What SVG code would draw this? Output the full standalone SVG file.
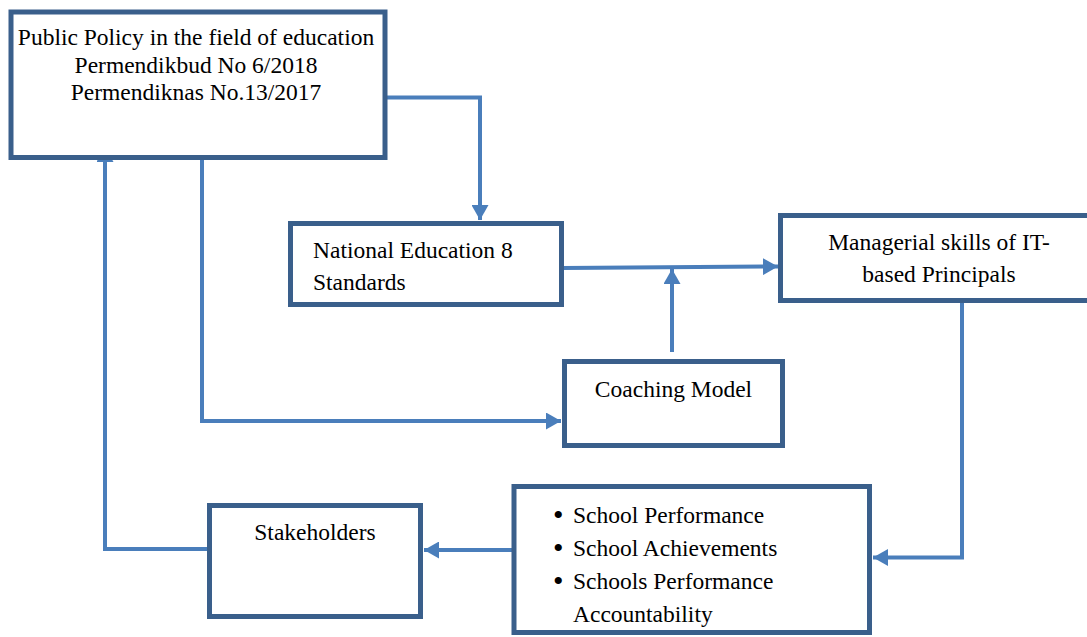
<svg xmlns="http://www.w3.org/2000/svg" width="1087" height="637" viewBox="0 0 1087 637">
  <style>
    .box { fill: #ffffff; stroke: #3A5F8B; stroke-width: 5; }
    .link { fill: none; stroke: #4A7EBB; stroke-width: 4; }
    text { font-family: 'Liberation Serif', 'Times New Roman', Tinos, serif; font-size: 23.5px; fill: #000000; }
    .mid { text-anchor: middle; }
    .dot { font-size: 30px; }
  </style>
  <defs>
    <marker id="arrow" markerUnits="userSpaceOnUse" markerWidth="15" markerHeight="17" viewBox="0 0 15 17" refX="15" refY="8.5" orient="auto">
      <path d="M0,0 L15,8.5 L0,17 z" fill="#4A7EBB"/>
    </marker>
  </defs>

  <rect width="1087" height="637" fill="#ffffff"/>

  <g id="connectors">
    <path class="link" d="M386,97.5 H480 V220" marker-end="url(#arrow)"/>
    <path class="link" d="M202,146 V421 H561" marker-end="url(#arrow)"/>
    <path class="link" d="M563,268 L778,266.5" marker-end="url(#arrow)"/>
    <path class="link" d="M672,352 V269" marker-end="url(#arrow)"/>
    <path class="link" d="M962,303 V557.5 H873" marker-end="url(#arrow)"/>
    <path class="link" d="M512,550 H424" marker-end="url(#arrow)"/>
    <path class="link" d="M208,549 H105 V147" marker-end="url(#arrow)"/>
  </g>

  <g id="public-policy">
    <rect class="box" x="11" y="12" width="374" height="145.5"/>
    <text class="mid" x="196" y="45">Public Policy in the field of education</text>
    <text class="mid" x="196" y="73">Permendikbud No 6/2018</text>
    <text class="mid" x="196" y="100">Permendiknas No.13/2017</text>
  </g>

  <g id="national-standards">
    <rect class="box" x="290.5" y="223.5" width="271" height="81"/>
    <text x="313" y="258">National Education 8</text>
    <text x="313" y="290">Standards</text>
  </g>

  <g id="managerial-skills">
    <rect class="box" x="780.5" y="215.5" width="320" height="85"/>
    <text class="mid" x="939" y="250">Managerial skills of IT-</text>
    <text class="mid" x="939" y="282">based Principals</text>
  </g>

  <g id="coaching-model">
    <rect class="box" x="564.5" y="361.5" width="218" height="84"/>
    <text class="mid" x="673.5" y="397">Coaching Model</text>
  </g>

  <g id="school-outcomes">
    <rect class="box" x="514" y="486.5" width="355.5" height="146"/>
    <text class="dot" x="553" y="525">•</text>
    <text x="573" y="523">School Performance</text>
    <text class="dot" x="553" y="558">•</text>
    <text x="573" y="556">School Achievements</text>
    <text class="dot" x="553" y="591">•</text>
    <text x="573" y="589">Schools Performance</text>
    <text x="573" y="622">Accountability</text>
  </g>

  <g id="stakeholders">
    <rect class="box" x="209.5" y="505.5" width="211" height="111"/>
    <text class="mid" x="315" y="540">Stakeholders</text>
  </g>
</svg>
